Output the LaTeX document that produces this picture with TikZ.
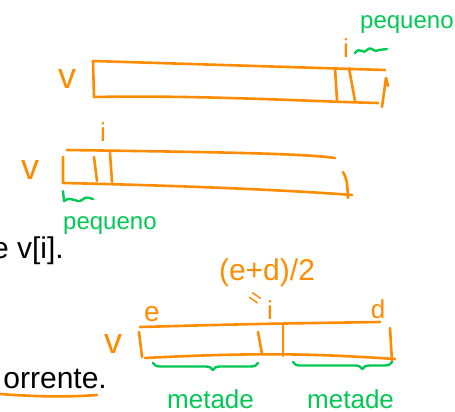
\documentclass[tikz,border=0pt]{standalone}
\usepackage{fontspec}
\setsansfont{Liberation Sans}
\usepackage{xcolor}
\usetikzlibrary{decorations.pathreplacing}
\definecolor{penorange}{RGB}{255,140,0}
\definecolor{pengreen}{RGB}{0,200,83}
\tikzset{
  pen/.style={penorange, line width=2.6pt, line cap=round, line join=round},
  greenpen/.style={pengreen, line width=2.4pt, line cap=round, line join=round},
  handlabel/.style={text=penorange, inner sep=0pt},
  greenlabel/.style={text=pengreen, inner sep=0pt, font=\sffamily\fontsize{24}{24}\selectfont},
  slidetext/.style={text=black, inner sep=0pt, font=\sffamily\fontsize{30}{30}\selectfont}
}
\newcommand{\handsize}[1]{\sffamily\fontsize{#1}{#1}\selectfont}

\begin{document}
\begin{tikzpicture}[x=1pt,y=-1pt]
			\useasboundingbox (0,0) rectangle (455,412);
			% texto do slide
			\node[slidetext, anchor=base east] (txtvi) at (64,258) {e v[i].};
			\node[slidetext, anchor=base east] (txtcorr) at (107,388) {orrente.};
			\draw[pen] (0,394) .. controls (40,397) and (70,397) .. (97,395);
			% primeiro vetor
			\draw[pen] (93,61) -- (385,70);
			\draw[pen] (93,61) -- (94,97) .. controls (200,95) and (300,101) .. (378,103);
			\draw[pen] (335,68) -- (337,100);
			\draw[pen] (349,68) -- (355,101);
			\draw[pen] (382,107) -- (386,78) -- (388,86);
			\node[handlabel, font=\handsize{36}] (v1) at (67,79) {v};
			\node[handlabel, font=\handsize{26}] (i1) at (346,48) {i};
			\draw[greenpen] (355,53) .. controls (360,46) and (362,55) .. (367,50) .. controls (372,45) and (374,54) .. (379,50) -- (387,49);
			\node[greenlabel, anchor=base west] (peq1) at (360,29) {pequeno};
			% segundo vetor
			\draw[pen] (67,150) .. controls (200,152) and (300,153) .. (335,158);
			\draw[pen] (63,157) -- (63,183) .. controls (200,186) and (300,191) .. (352,195);
			\draw[pen] (94,157) -- (97,181);
			\draw[pen] (110,153) -- (112,182);
			\draw[pen] (343,172) .. controls (347,180) .. (348,198);
			\node[handlabel, font=\handsize{36}] (v2) at (30,170) {v};
			\node[handlabel, font=\handsize{26}] (i2) at (103,132) {i};
			\draw[greenpen] (63,191) -- (64,201) .. controls (72,195) and (76,204) .. (82,200) .. controls (86,197) .. (93,199);
			\node[greenlabel, anchor=base west] (peq2) at (63,229) {pequeno};
			% terceiro vetor
			\draw[pen] (140,327) .. controls (250,324) .. (380,322);
			\draw[pen] (139,332) -- (142,357);
			\draw[pen] (145,358) .. controls (260,352) and (320,354) .. (395,359);
			\draw[pen] (258,332) -- (262,354);
			\draw[pen] (283,325) -- (283,356);
			\draw[pen] (390,328) -- (392,362);
			\node[handlabel, font=\handsize{36}] (v3) at (113,344) {v};
			\node[handlabel, font=\handsize{28}] (e3) at (152,314) {e};
			\node[handlabel, font=\handsize{26}] (d3) at (378,309) {d};
			\node[handlabel, font=\handsize{26}] (i3) at (270,310) {i};
			\node[handlabel, font=\handsize{22}, rotate=-35] (eq3) at (254,300) {=};
			\node[handlabel, font=\handsize{30}] (mid3) at (267,273) {(e+d)/2};
			\draw[greenpen, decorate, decoration={brace, mirror, amplitude=7pt, aspect=0.57}] (153,363) -- (258,363);
			\draw[greenpen, decorate, decoration={brace, mirror, amplitude=7pt, aspect=0.7}] (293,362) -- (392,362);
			\node[greenlabel, anchor=base west, font=\sffamily\fontsize{26}{26}\selectfont] (met1) at (167,408) {metade};
			\node[greenlabel, anchor=base west, font=\sffamily\fontsize{26}{26}\selectfont] (met2) at (307,408) {metade};
		\end{tikzpicture}
\end{document}
